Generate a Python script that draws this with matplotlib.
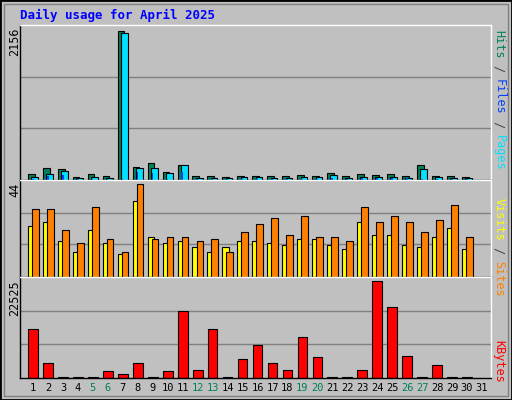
import matplotlib
matplotlib.use("Agg")
import matplotlib.pyplot as plt
import numpy as np

days = list(range(1, 32))
hits = [93,180,156,49,93,54,2156,195,239,122,224,54,63,39,63,54,63,54,78,63,107,54,93,78,93,63,210,63,63,39]
files = [49,93,137,34,49,34,2128,180,180,107,210,34,34,34,49,49,34,34,49,49,78,34,49,49,49,34,166,49,34,34]
pages = [20,58,78,12,20,12,10,112,98,20,112,12,10,8,15,12,12,12,20,20,30,10,25,25,25,25,20,15,10,8]
sites = [24,26,17,12,22,16,11,36,19,16,17,14,12,14,17,17,16,15,18,18,15,13,26,20,20,15,14,19,23,13]
visits = [32,32,22,16,33,18,12,44,18,19,19,17,18,12,21,25,28,20,29,19,19,17,33,26,29,26,21,27,34,19]
kbytes = [11430,3530,250,250,250,1560,820,3530,250,1560,15620,1810,11430,250,4520,7730,3530,1810,9450,4770,250,250,1810,22525,16360,5010,250,3040,250,250]
weekends = [5,6,12,13,19,20,26,27]

BG = "#C0C0C0"
fig = plt.figure(figsize=(5.12, 4.0), dpi=100, facecolor=BG)
W, H = 512, 400
def ax_at(x0, y0, x1, y1):
    return fig.add_axes([x0/W, 1-y1/H, (x1-x0)/W, (y1-y0)/H])

XL, XR = 0.13, 31.6
axs = [ax_at(20, 25, 491, 180), ax_at(20, 180, 491, 277), ax_at(20, 277, 491, 378)]
maxes = [2156, 44, 22525]
x = np.arange(1, 31)
for ax, m in zip(axs, maxes):
    ax.set_facecolor(BG)
    ax.set_xlim(XL, XR)
    ax.set_ylim(0, m * 1.04)
    for f in (0.35, 0.69):
        ax.axhline(m * f, color="#808080", lw=1, zorder=0)
    ax.set_xticks([])
    ax.set_yticks([])
    for s in ax.spines.values():
        s.set_color("black"); s.set_linewidth(1)
    ax.spines['top'].set_color("white"); ax.spines['right'].set_color("white")

ek = dict(edgecolor="black", linewidth=0.8)
a = axs[0]
a.bar(x - 0.12, hits, width=0.45, color="#00805C", **ek, zorder=2)
a.bar(x + 0.1, files, width=0.45, color="#00E0FF", **ek, zorder=3)
a.bar(x - 0.02, pages, width=0.12, color="#0040FF", linewidth=0, zorder=4)

a = axs[1]
a.bar(x - 0.12, sites, width=0.45, color="#FFFF00", **ek, zorder=2)
a.bar(x + 0.15, visits, width=0.45, color="#FF8000", **ek, zorder=3)

a = axs[2]
a.bar(x, kbytes, width=0.65, color="#FF0000", **ek, zorder=2)

mono = "DejaVu Sans Mono"
fig.text(20/W, 1-15/H, "Daily usage for April 2025", color="#0000FF", family=mono,
         weight="bold", fontsize=9, va="center", ha="left")
for lbl, ytop in zip(["2156", "44", "22525"], [28, 183, 280]):
    fig.text(15/W, 1-ytop/H, lbl, rotation=90, family=mono, fontsize=8.5, va="top", ha="center")

def vlabel(parts, ytop):
    y = ytop
    for txt, col in parts:
        fig.text(499/W, 1-y/H, txt, rotation=270, color=col, family=mono,
                 fontsize=8.5, va="top", ha="center")
        y += len(txt) * 7.0
vlabel([("Hits", "#00805C"), (" / ", "#404040"), ("Files", "#0040FF"), (" / ", "#404040"), ("Pages", "#00E0FF")], 30)
vlabel([("Visits", "#FFFF00"), (" / ", "#404040"), ("Sites", "#FF8000")], 198)
vlabel([("KBytes", "#FF0000")], 340)

for d in days:
    xf = (20 + (d - XL) / (XR - XL) * 471) / W
    fig.text(xf, 1-388/H, str(d), family=mono, fontsize=7.5, ha="center", va="center",
             color="#00805C" if d in weekends else "black")

fig.add_artist(plt.Rectangle((0, 0), 1, 1, transform=fig.transFigure, fill=False,
                             edgecolor="black", lw=2))
fig.add_artist(plt.Rectangle((4/W, 4/H), 1-8/W, 1-8/H, transform=fig.transFigure, fill=False,
                             edgecolor="#808080", lw=1))
fig.savefig("out.png", dpi=100, facecolor=BG)
